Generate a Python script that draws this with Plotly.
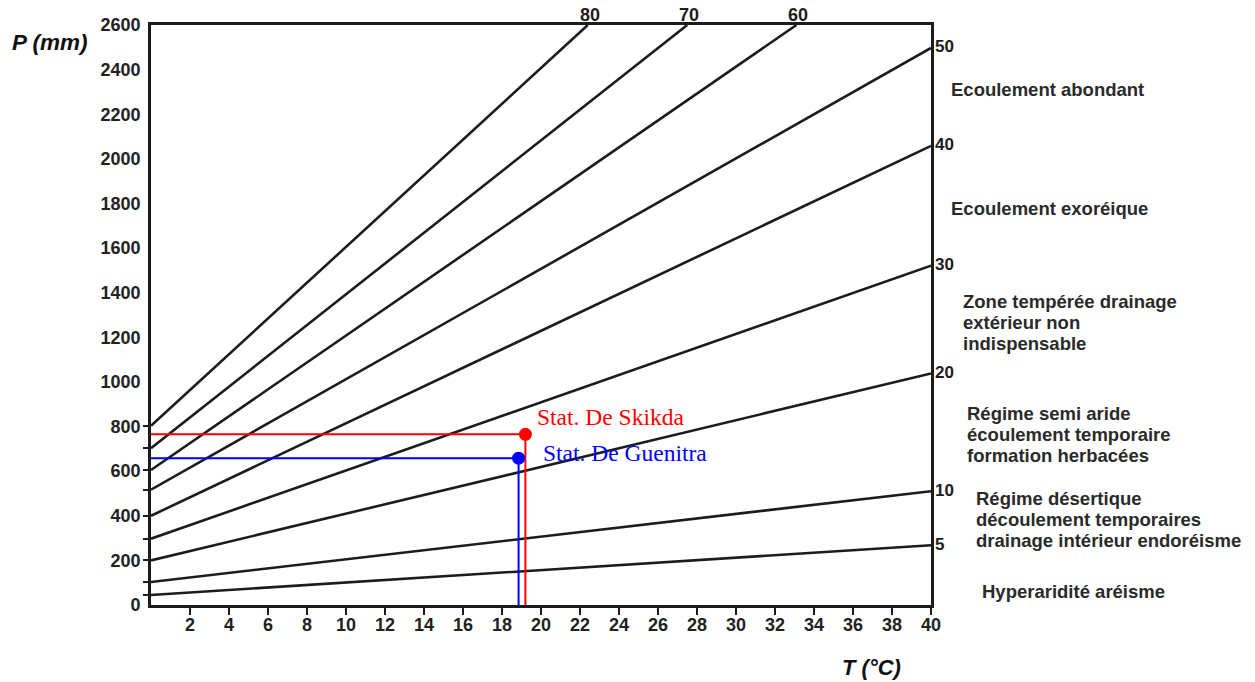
import plotly.graph_objects as go

# ---------------- data ----------------
T_ticks = list(range(2, 41, 2))
P_ticks = list(range(0, 2601, 200))

index_values = [5, 10, 20, 30, 40, 50, 60, 70, 80]
line_start_P = [45, 103, 200, 297, 400, 517, 605, 703, 803]
line_end_T = [40, 40, 40, 40, 40, 40, 33.1, 27.5, 22.4]
line_end_P = [268, 510, 1038, 1521, 2058, 2497, 2600, 2600, 2600]

stations = ["Stat. De Skikda", "Stat. De Guenitra"]
station_T = [19.2, 18.85]
station_P = [765, 658]
station_colors = ["#ff0000", "#0000ff"]

zone_lines = [
    ["Ecoulement abondant"],
    ["Ecoulement exoréique"],
    ["Zone tempérée drainage", "extérieur non", "indispensable"],
    ["Régime semi aride", "écoulement temporaire", "formation herbacées"],
    ["Régime désertique", "découlement temporaires", "drainage intérieur endoréisme"],
    ["Hyperaridité aréisme"],
]

# ---------------- layout geometry ----------------
W, H = 1255, 682
L, R, TOP, BOT = 151, 931, 25, 605
INK = "#1c1c1c"
SANS = "Liberation Sans, Arial, sans-serif"


def px2paper(px, py):
    return (px - L) / (R - L), (BOT - py) / (BOT - TOP)


fig = go.Figure()

# index lines
for i, idx in enumerate(index_values):
    fig.add_trace(go.Scatter(
        x=[0, line_end_T[i]], y=[line_start_P[i], line_end_P[i]],
        mode="lines", line=dict(color=INK, width=2.6),
        showlegend=False, hoverinfo="skip", cliponaxis=False))

# stations
for name, t, p, c in zip(stations, station_T, station_P, station_colors):
    fig.add_trace(go.Scatter(x=[0, t, t], y=[p, p, 0], mode="lines",
                             line=dict(color=c, width=2), showlegend=False,
                             hoverinfo="skip"))
    fig.add_trace(go.Scatter(x=[t], y=[p], mode="markers",
                             marker=dict(color=c, size=13), showlegend=False,
                             name=name, cliponaxis=False))

annotations = []

# index labels on right side / top
for i, idx in enumerate(index_values):
    if line_end_T[i] >= 40:
        annotations.append(dict(x=line_end_T[i], y=line_end_P[i], xref="x", yref="y",
                                text=str(idx), showarrow=False, xanchor="left",
                                yanchor="middle", xshift=2, yshift=1,
                                font=dict(family=SANS, size=17, color=INK, weight="bold")))
    else:
        annotations.append(dict(x=line_end_T[i], y=line_end_P[i], xref="x", yref="y",
                                text=str(idx), showarrow=False, xanchor="center",
                                yanchor="bottom", xshift=2, yshift=-2,
                                font=dict(family=SANS, size=18, color=INK, weight="bold")))

# zone descriptions (left x pixel, first-line centre y pixel)
zone_pos = [(949, 90), (949, 208), (961, 301), (965, 413), (974, 498), (980, 591)]
for lines, (zx, zy) in zip(zone_lines, zone_pos):
    for k, txt in enumerate(lines):
        xp, yp = px2paper(zx, zy + k * 21)
        annotations.append(dict(x=xp, y=yp, xref="paper", yref="paper", text=txt,
                                showarrow=False, xanchor="left", yanchor="middle",
                                font=dict(family=SANS, size=18.5, color="#2a2a2a",
                                          weight="bold")))

# station labels
station_shift = [(10, 17), (22, 5)]
for name, t, p, c, (dx, dy) in zip(stations, station_T, station_P, station_colors, station_shift):
    annotations.append(dict(x=t, y=p, xref="x", yref="y", text=name, showarrow=False,
                            xanchor="left", yanchor="middle", xshift=dx, yshift=dy,
                            font=dict(family="Liberation Serif, Times New Roman, serif",
                                      size=23.5, color=c)))

# axis titles
xp, yp = px2paper(49, 43)
annotations.append(dict(x=xp, y=yp, xref="paper", yref="paper", text="P (mm)",
                        showarrow=False, xanchor="center", yanchor="middle",
                        font=dict(family=SANS, size=22.5, color="#111", weight="bold",
                                  style="italic")))
xp, yp = px2paper(871, 667)
annotations.append(dict(x=xp, y=yp, xref="paper", yref="paper", text="T (°C)",
                        showarrow=False, xanchor="center", yanchor="middle",
                        font=dict(family=SANS, size=22, color="#111", weight="bold",
                                  style="italic")))

tickfont = dict(family=SANS, size=18, color="#222", weight="bold")

fig.update_layout(
    width=W, height=H,
    margin=dict(l=L, r=W - R, t=TOP, b=H - BOT, autoexpand=False),
    paper_bgcolor="white", plot_bgcolor="white",
    showlegend=False,
    annotations=annotations,
    xaxis=dict(range=[0, 40], showgrid=False, zeroline=False, showline=True,
               linecolor=INK, linewidth=2.6, mirror=True, ticks="outside",
               tickvals=T_ticks, ticklen=7, tickwidth=2, tickcolor=INK,
               tickfont=tickfont, ticklabelstandoff=-5),
    yaxis=dict(range=[0, 2600], showgrid=False, zeroline=False, showline=True,
               linecolor=INK, linewidth=2.6, mirror=True, ticks="",
               tickvals=P_ticks, tickfont=tickfont, ticklabelstandoff=4),
    yaxis2=dict(range=[0, 2600], overlaying="y", side="left", showgrid=False,
                zeroline=False, showline=False, ticks="outside",
                tickvals=line_start_P, ticklen=7, tickwidth=2, tickcolor=INK,
                showticklabels=False),
)
# invisible trace that activates the secondary y axis ticks
fig.add_trace(go.Scatter(x=[None], y=[None], yaxis="y2", showlegend=False,
                         hoverinfo="skip"))

fig.write_html("out.html", config={"displayModeBar": False},
               post_script="document.body.style.margin='0px';document.body.style.padding='0px';")
